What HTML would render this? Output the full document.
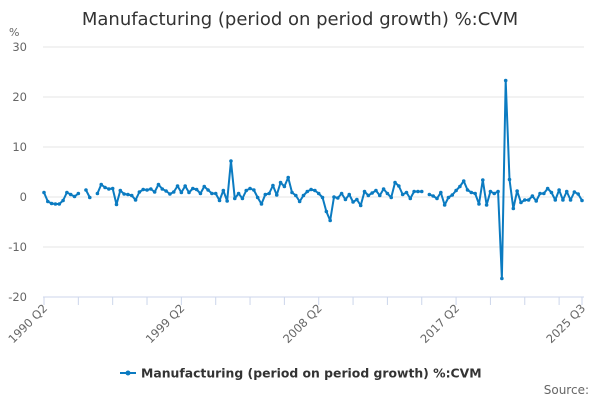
<!DOCTYPE html>
<html><head><meta charset="utf-8"><style>
body{margin:0;background:#fff;}
svg text{font-family:"DejaVu Sans","Liberation Sans",sans-serif;}
</style></head><body>
<svg id="chart" width="600" height="400" xmlns="http://www.w3.org/2000/svg">
<text x="300" y="25" text-anchor="middle" font-size="18" fill="#333">Manufacturing (period on period growth) %:CVM</text>
<text x="9" y="36" font-size="11" fill="#666">%</text>
<g id="grid"></g><g id="xaxis"></g><g id="series"></g>
<g>
<line x1="120" y1="373" x2="136" y2="373" stroke="#0b7bc1" stroke-width="2"/>
<circle cx="128" cy="373" r="2.5" fill="#0b7bc1"/>
<text x="141" y="377.5" font-size="12.4" font-weight="bold" fill="#333">Manufacturing (period on period growth) %:CVM</text>
</g>
<text x="589" y="394" text-anchor="end" font-size="12" fill="#666">Source:</text>
</svg>
<script>
const values = [0.9,-0.9,-1.3,-1.4,-1.4,-0.7,0.9,0.5,0.1,0.7,null,1.4,-0.1,null,
0.7,2.5,1.9,1.6,1.7,-1.5,1.3,0.6,0.5,0.3,-0.6,1.0,1.5,1.4,1.6,1.0,2.5,1.6,1.2,0.6,1.0,2.2,0.9,2.2,0.9,1.7,1.5,0.7,2.1,1.4,0.7,0.7,-0.7,1.3,-0.8,7.2,
-0.3,0.7,-0.3,1.3,1.7,1.4,-0.1,-1.4,0.5,0.7,2.3,0.4,2.9,2.1,3.9,0.9,0.3,-0.9,0.3,1.1,1.5,1.3,0.7,-0.1,-2.9,-4.7,0,-0.2,0.7,-0.5,0.5,-1.0,-0.5,-1.7,1.1,0.3,0.8,1.3,0.3,1.6,0.7,-0.1,2.9,2.2,0.5,0.9,-0.3,1.1,1.1,1.1,null,
0.5,0.2,-0.3,0.9,-1.6,-0.1,0.4,1.3,2.1,3.2,1.4,0.9,0.7,-1.4,3.4,-1.6,1.1,0.7,1.1,
-16.3,23.3,
3.5,-2.3,1.2,-1.1,-0.6,-0.6,0.2,-0.8,0.7,0.7,1.7,0.9,-0.6,1.4,-0.6,1.1,-0.6,1.0,0.6,-0.7];
const yTicks = [30,20,10,0,-10,-20];
const xLabels = ["1990 Q2","1999 Q2","2008 Q2","2017 Q2","2025 Q3"];
const xLabelIdx = [0,36,72,108,141];
const NS="http://www.w3.org/2000/svg";
const x0=44,x1=582,yTop=47,yBot=297;
const n=values.length;
function xs(i){return x0+(x1-x0)*i/(n-1);}
function ys(v){return yBot-(v+20)/50*(yBot-yTop);}
function mk(t,a,p){const e=document.createElementNS(NS,t);for(const k in a)e.setAttribute(k,a[k]);p.appendChild(e);return e;}
const grid=document.getElementById('grid');
yTicks.forEach(v=>{
  const l=mk('line',{x1:43,x2:x1+2,y1:ys(v),y2:ys(v),stroke:v===-20?'#ccd6eb':'#e6e6e6','stroke-width':1},grid);
  
  
  const t=mk('text',{x:27,y:ys(v)+4,'text-anchor':'end','font-size':11.5,fill:'#666'},grid);
  t.textContent=v;
  
  
});
const xa=document.getElementById('xaxis');
for(let i=0;i<n;i+=9){
  const l=mk('line',{x1:xs(i),x2:xs(i),y1:yBot,y2:yBot+8,stroke:'#ccd6eb'},xa);
  
  
}
mk('line',{x1:xs(141),x2:xs(141),y1:yBot,y2:yBot+8,stroke:'#ccd6eb'},xa);
xLabels.forEach((s,k)=>{
  const x=xs(xLabelIdx[k]);
  const t=mk('text',{x:x+4,y:yBot+12,'text-anchor':'end','font-size':11.5,fill:'#666',transform:`rotate(-45 ${x+4} ${yBot+12})`},xa);
  t.textContent=s;
  
  
});
const sg=document.getElementById('series');
let d='',pen=false;
values.forEach((v,i)=>{
  if(v===null){pen=false;return;}
  d+=(pen?'L':'M')+xs(i).toFixed(2)+' '+ys(v).toFixed(2)+' ';pen=true;
});
const p=mk('path',{d:d,fill:'none',stroke:'#0b7bc1','stroke-width':2,'stroke-linejoin':'round'},sg);


values.forEach((v,i)=>{
  if(v===null)return;
  const c=mk('circle',{cx:xs(i),cy:ys(v),r:1.8,fill:'#0b7bc1'},sg);
  
  
});
</script>
</body></html>
